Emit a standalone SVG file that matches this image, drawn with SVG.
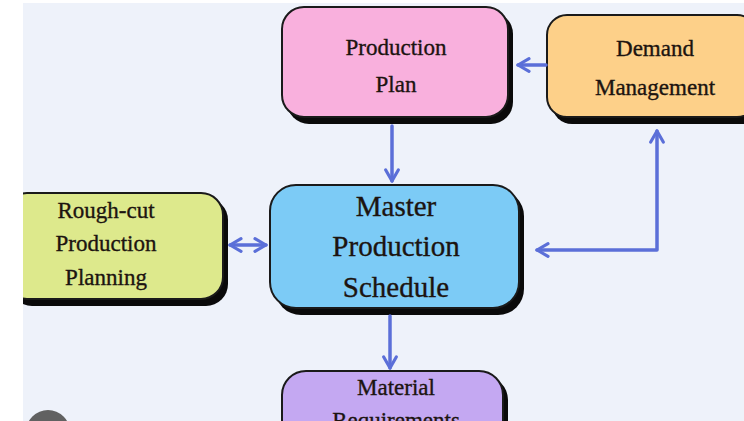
<svg xmlns="http://www.w3.org/2000/svg" width="744" height="421" viewBox="0 0 744 421">
<style>
.sh{fill:#0a0a0a}
.bx{stroke:#1a1a1a;stroke-width:2}
.t{font-family:"Liberation Serif",serif;fill:#1c1410;stroke:#1c1410;stroke-width:0.35;text-anchor:middle}
.c{fill:none;stroke:#5b6fd8;stroke-width:3.5;stroke-linecap:round;stroke-linejoin:round}
</style>
<defs>
<marker id="ah" viewBox="0 0 10 10" refX="8" refY="5" markerWidth="4.5" markerHeight="4.5" orient="auto-start-reverse" markerUnits="strokeWidth">
<path d="M1,1 L8,5 L1,9" fill="none" stroke="#5b6fd8" stroke-width="2" stroke-linecap="round" stroke-linejoin="round"/>
</marker>
</defs>
<rect x="0" y="0" width="744" height="421" fill="#eef2fa"/>
<g id="production-plan">
<rect class="sh" x="287" y="12" width="226" height="112" rx="22"/>
<rect class="bx" x="282" y="7" width="226" height="110" rx="22" fill="#f9b0dd"/>
<text class="t" x="396" y="55" font-size="23">Production</text>
<text class="t" x="396" y="92" font-size="23">Plan</text>
</g>
<g id="demand-management">
<rect class="sh" x="552" y="20" width="210" height="104" rx="20"/>
<rect class="bx" x="547" y="15" width="210" height="102" rx="20" fill="#fdd089"/>
<text class="t" x="655" y="56" font-size="23">Demand</text>
<text class="t" x="655" y="95" font-size="23">Management</text>
</g>
<g id="rough-cut">
<rect class="sh" x="10" y="198" width="218" height="108" rx="22"/>
<rect class="bx" x="5" y="193" width="218" height="106" rx="22" fill="#dde98c"/>
<text class="t" x="106" y="218" font-size="23">Rough-cut</text>
<text class="t" x="106" y="251" font-size="23">Production</text>
<text class="t" x="106" y="285" font-size="23">Planning</text>
</g>
<g id="master-production-schedule">
<rect class="sh" x="275" y="190" width="249" height="125" rx="26"/>
<rect class="bx" x="270" y="185" width="249" height="123" rx="26" fill="#7ccbf6"/>
<text class="t" x="396" y="216" font-size="29">Master</text>
<text class="t" x="396" y="256" font-size="29">Production</text>
<text class="t" x="396" y="297" font-size="29">Schedule</text>
</g>
<g id="material-requirements">
<rect class="sh" x="287" y="376" width="221" height="80" rx="24"/>
<rect class="bx" x="282" y="371" width="221" height="80" rx="24" fill="#c4a8f2"/>
<text class="t" x="396" y="395" font-size="23">Material</text>
<text class="t" x="396" y="428" font-size="23">Requirements</text>
</g>
<g id="connectors">
<path class="c" d="M546,65 L518,65" marker-end="url(#ah)"/>
<path class="c" d="M392,126 L392,181" marker-end="url(#ah)"/>
<path class="c" d="M230,245 L266,245" marker-start="url(#ah)" marker-end="url(#ah)"/>
<path class="c" d="M657,131 L657,250 L537,250" marker-start="url(#ah)" marker-end="url(#ah)"/>
<path class="c" d="M390,316 L390,368" marker-end="url(#ah)"/>
</g>
<rect x="0" y="0" width="23" height="421" fill="#ffffff"/>
<rect x="0" y="0" width="744" height="3" fill="#ffffff"/>
<circle cx="48" cy="432" r="22" fill="#616161"/>
</svg>
